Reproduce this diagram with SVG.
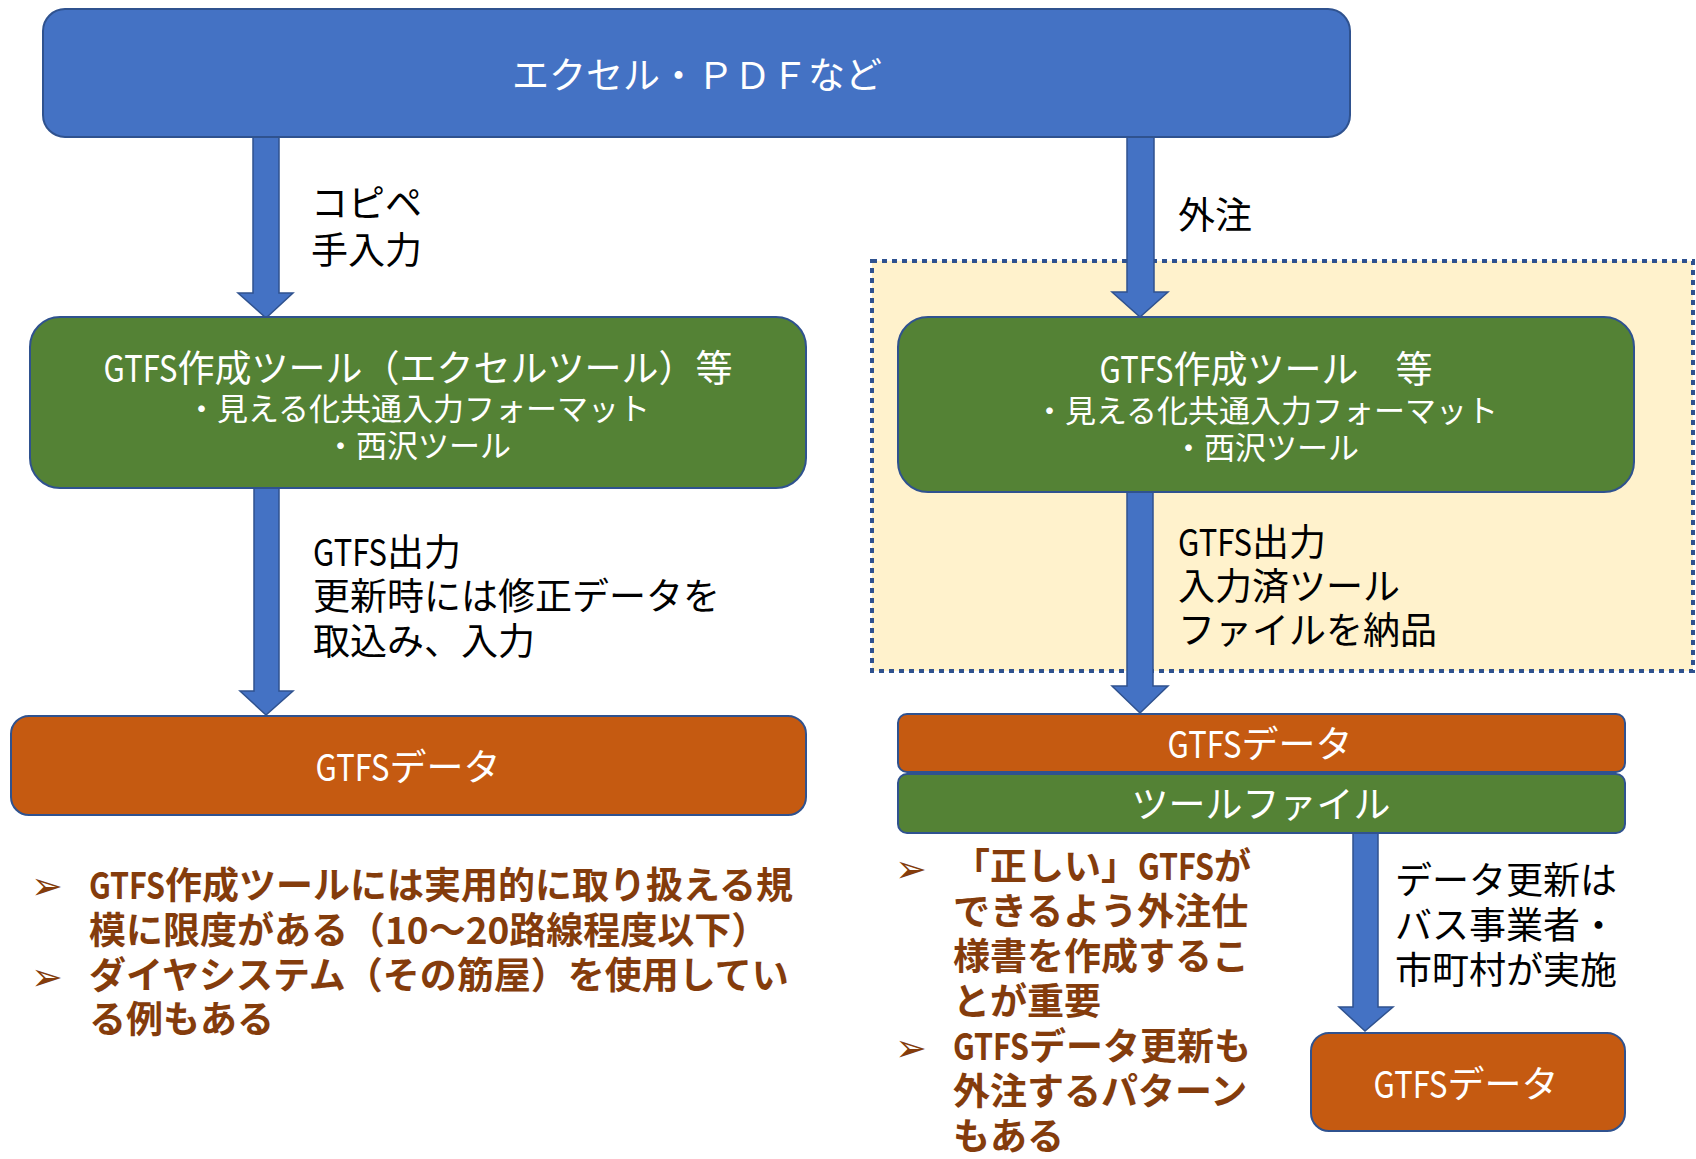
<svg xmlns="http://www.w3.org/2000/svg" width="1696" height="1159" viewBox="0 0 1696 1159">
<style>
text{font-family:"Noto Sans CJK JP","Noto Sans",sans-serif}
.w{fill:#fff}
.k{fill:#000;font-size:37px}
.b{fill:#843C0C;font-size:37px;font-weight:bold}
.bul{fill:#843C0C;font-size:38px;font-family:"DejaVu Sans",sans-serif}
.box{stroke:#2F528F;stroke-width:2}
.arr{fill:#4472C4;stroke:#2F528F;stroke-width:1.5}
</style>
<rect x="0" y="0" width="1696" height="1159" fill="#fff"/>
<g id="outsource-area">
<rect x="872" y="261" width="821" height="410" fill="#FFF2CC" stroke="#2F528F" stroke-width="4" stroke-dasharray="5 5"/>
</g>
<g id="connectors">
<path class="arr" d="M253 137 H279 V293 H293 L266 318 L238 293 H253 Z"/>
<path class="arr" d="M1127 137 H1154 V292 H1168 L1140 317 L1112 292 H1127 Z"/>
<path class="arr" d="M254 488 H279 V691 H293 L266 715 L240 691 H254 Z"/>
<path class="arr" d="M1127 492 H1153 V686 H1168 L1140 713 L1112 686 H1127 Z"/>
<path class="arr" d="M1353 833 H1378 V1007 H1393 L1365 1031 L1339 1007 H1353 Z"/>
<text class="k" x="311" y="217">コピペ</text>
<text class="k" x="311" y="264">手入力</text>
<text class="k" x="1178" y="229">外注</text>
<text class="k" x="313" y="566"><tspan textLength="74" lengthAdjust="spacingAndGlyphs">GTFS</tspan>出力</text>
<text class="k" x="313" y="610">更新時には修正データを</text>
<text class="k" x="313" y="655">取込み、入力</text>
<text class="k" x="1178" y="556"><tspan textLength="74" lengthAdjust="spacingAndGlyphs">GTFS</tspan>出力</text>
<text class="k" x="1178" y="600">入力済ツール</text>
<text class="k" x="1178" y="644">ファイルを納品</text>
<text class="k" x="1395" y="894">データ更新は</text>
<text class="k" x="1395" y="939">バス事業者・</text>
<text class="k" x="1395" y="984">市町村が実施</text>
</g>
<g id="source">
<rect class="box" x="43" y="9" width="1307" height="128" rx="22" fill="#4472C4"/>
<text class="w" x="697" y="89" font-size="37" text-anchor="middle">エクセル・ＰＤＦなど</text>
</g>
<g id="tool-left">
<rect class="box" x="30" y="317" width="776" height="171" rx="30" fill="#548235"/>
<text class="w" x="418" y="382" font-size="37" text-anchor="middle"><tspan textLength="74" lengthAdjust="spacingAndGlyphs">GTFS</tspan>作成ツール（エクセルツール）等</text>
<text class="w" x="418" y="420" font-size="31" text-anchor="middle">・見える化共通入力フォーマット</text>
<text class="w" x="418" y="457" font-size="31" text-anchor="middle">・西沢ツール</text>
</g>
<g id="tool-right">
<rect class="box" x="898" y="317" width="736" height="175" rx="30" fill="#548235"/>
<text class="w" x="1266" y="383" font-size="37" text-anchor="middle"><tspan textLength="74" lengthAdjust="spacingAndGlyphs">GTFS</tspan>作成ツール　等</text>
<text class="w" x="1266" y="422" font-size="31" text-anchor="middle">・見える化共通入力フォーマット</text>
<text class="w" x="1266" y="459" font-size="31" text-anchor="middle">・西沢ツール</text>
</g>
<g id="gtfs-left">
<rect class="box" x="11" y="716" width="795" height="99" rx="18" fill="#C55A11"/>
<text class="w" x="408" y="781" font-size="37" text-anchor="middle"><tspan textLength="74" lengthAdjust="spacingAndGlyphs">GTFS</tspan>データ</text>
</g>
<g id="gtfs-right">
<rect class="box" x="898" y="714" width="727" height="58" rx="9" fill="#C55A11"/>
<text class="w" x="1260" y="758" font-size="37" text-anchor="middle"><tspan textLength="74" lengthAdjust="spacingAndGlyphs">GTFS</tspan>データ</text>
</g>
<g id="toolfile-right">
<rect class="box" x="898" y="774" width="727" height="59" rx="9" fill="#548235"/>
<text class="w" x="1261" y="818" font-size="37" text-anchor="middle">ツールファイル</text>
</g>
<g id="gtfs-bottom">
<rect class="box" x="1311" y="1033" width="314" height="98" rx="18" fill="#C55A11"/>
<text class="w" x="1466" y="1098" font-size="37" text-anchor="middle"><tspan textLength="74" lengthAdjust="spacingAndGlyphs">GTFS</tspan>データ</text>
</g>
<g id="notes-left">
<text class="bul" x="31" y="899">➢</text>
<text class="b" x="89" y="899"><tspan textLength="76" lengthAdjust="spacingAndGlyphs">GTFS</tspan>作成ツールには実用的に取り扱える規</text>
<text class="b" x="89" y="944">模に限度がある（10～20路線程度以下）</text>
<text class="bul" x="31" y="990">➢</text>
<text class="b" x="89" y="989">ダイヤシステム（その筋屋）を使用してい</text>
<text class="b" x="89" y="1033">る例もある</text>
</g>
<g id="notes-right">
<text class="bul" x="895" y="882">➢</text>
<text class="b" x="953" y="880">「正しい」<tspan textLength="76" lengthAdjust="spacingAndGlyphs">GTFS</tspan>が</text>
<text class="b" x="953" y="925">できるよう外注仕</text>
<text class="b" x="953" y="970">様書を作成するこ</text>
<text class="b" x="953" y="1015">とが重要</text>
<text class="bul" x="895" y="1061">➢</text>
<text class="b" x="953" y="1060"><tspan textLength="76" lengthAdjust="spacingAndGlyphs">GTFS</tspan>データ更新も</text>
<text class="b" x="953" y="1105">外注するパターン</text>
<text class="b" x="953" y="1150">もある</text>
</g>
</svg>
